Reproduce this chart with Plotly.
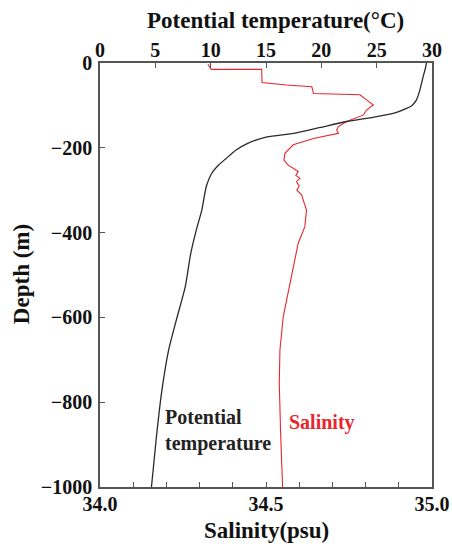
import plotly.graph_objects as go

# Potential temperature profile (°C) vs depth (m)
temp_depth = [0, -13, -32, -64, -87, -100, -107, -119, -128, -138, -152, -166, -174,
              -190, -205, -225, -241, -260, -292, -347, -394, -449, -528, -606, -677,
              -771, -881, -1000]
temp_vals = [29.5, 29.4, 29.2, 28.9, 28.6, 28.2, 27.7, 26.5, 24.7, 22.3, 19.9, 17.5, 15.1,
             13.3, 12.3, 11.4, 10.7, 10.1, 9.6, 9.2, 8.7, 8.2, 7.7, 6.9, 6.2,
             5.6, 5.1, 4.65]

# Salinity profile (psu) vs depth (m)
sal_depth = [-3, -9, -15, -15, -46, -52, -56, -72, -75, -87, -99, -111, -123, -138, -150,
             -158, -166, -178, -193, -213, -229, -241, -256, -265, -272, -280, -290, -300,
             -311, -347, -386, -425, -465, -496, -598, -677, -755, -873, -1000]
sal_vals = [34.325, 34.331, 34.335, 34.487, 34.488, 34.562, 34.638, 34.643, 34.783, 34.803,
            34.823, 34.803, 34.793, 34.743, 34.718, 34.713, 34.718, 34.643, 34.582, 34.557,
            34.554, 34.567, 34.597, 34.590, 34.602, 34.592, 34.600, 34.593, 34.607, 34.622,
            34.617, 34.597, 34.587, 34.577, 34.552, 34.542, 34.540, 34.544, 34.550]

sal_ticks = [34.0, 34.5, 35.0]
sal_ticktext = ["34.0", "34.5", "35.0"]
sal_minor = [34.1, 34.2, 34.3, 34.4, 34.6, 34.7, 34.8, 34.9]
temp_ticks = [0, 5, 10, 15, 20, 25, 30]
depth_ticks = [0, -200, -400, -600, -800, -1000]

FONT = "Liberation Serif"
AXCOL = "#555555"
tickfont = dict(family=FONT, size=20, color="#111111", weight="bold")

fig = go.Figure()
fig.add_trace(go.Scatter(x=temp_vals, y=temp_depth, xaxis="x2", yaxis="y", mode="lines",
                         line=dict(color="#2a2a2a", width=1.3, shape="spline",
                                   smoothing=0.6), showlegend=False))
fig.add_trace(go.Scatter(x=sal_vals, y=sal_depth, xaxis="x", yaxis="y", mode="lines",
                         line=dict(color="#e8262c", width=1.1), showlegend=False))

fig.update_layout(
    width=452, height=544,
    margin=dict(l=100, r=20, t=63, b=57),
    paper_bgcolor="white", plot_bgcolor="white",
    xaxis=dict(range=[34, 35], tickvals=sal_ticks, ticktext=sal_ticktext,
               ticks="inside", ticklen=5, tickcolor=AXCOL, showline=True,
               linecolor=AXCOL, linewidth=1.5, showgrid=False, zeroline=False,
               tickfont=tickfont, ticklabelstandoff=-2, automargin=False,
               minor=dict(tickvals=sal_minor, ticks="inside", ticklen=5, tickcolor=AXCOL)),
    xaxis2=dict(range=[0, 30], tickvals=temp_ticks, overlaying="x", side="top",
                ticks="inside", ticklen=5, tickcolor=AXCOL, showline=True,
                linecolor=AXCOL, linewidth=1.5, showgrid=False, zeroline=False,
                tickfont=tickfont, ticklabelstandoff=-4, automargin=False),
    yaxis=dict(range=[-1000, 0], tickvals=depth_ticks, ticks="inside", ticklen=5,
               tickcolor=AXCOL, showline=True, mirror=True, linecolor=AXCOL,
               linewidth=1.5, showgrid=False, zeroline=False, tickfont=tickfont,
               ticklabelstandoff=2, automargin=False),
)

title_font = dict(family=FONT, size=23, color="#111111", weight="bold")
fig.add_annotation(text="Potential temperature(°C)", xref="paper", yref="paper",
                   x=0.53, y=1.101, xanchor="center", yanchor="middle",
                   showarrow=False, font=title_font)
fig.add_annotation(text="Salinity(psu)", xref="paper", yref="paper",
                   x=0.5, y=-0.102, xanchor="center", yanchor="middle",
                   showarrow=False, font=title_font)
fig.add_annotation(text="Depth (m)", xref="paper", yref="paper",
                   x=-0.238, y=0.502, xanchor="center", yanchor="middle",
                   textangle=-90, showarrow=False, font=title_font)

label_font = dict(family=FONT, size=20, weight="bold")
fig.add_annotation(text="Potential<br>temperature", xref="x2", yref="y",
                   x=5.7, y=-866, xanchor="left", yanchor="middle", align="left",
                   showarrow=False, font=dict(label_font, color="#222222"))
fig.add_annotation(text="Salinity", xref="x", yref="y",
                   x=34.563, y=-849, xanchor="left", yanchor="middle", align="left",
                   showarrow=False, font=dict(label_font, color="#e8262c"))

fig.write_html("out.html")
